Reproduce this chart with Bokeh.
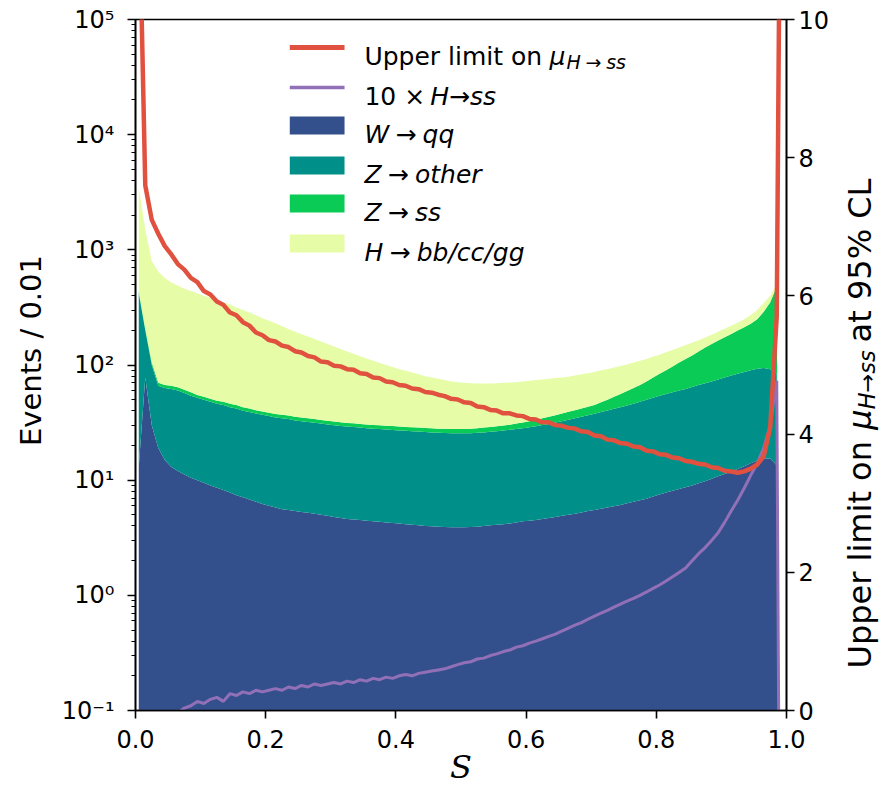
import numpy as np
from bokeh.plotting import figure
from bokeh.layouts import row
from bokeh.models import (Range1d, LinearAxis, LinearScale, FixedTicker, CustomJSTickFormatter,
                          Label, BoxAnnotation)
from bokeh.embed import file_html
from bokeh.resources import INLINE
from math import pi

# ---------------- data ----------------
# bin centres of the 0.01-wide histogram bins, plus the upper edge of the filled range
s_centres = np.round(np.arange(0.005, 0.99, 0.01), 3)
s_edge = [0.99]
s = list(s_centres) + s_edge

W_qq = [13, 78, 30, 19, 15, 13, 12, 11.2, 10.5, 10,
        9.5, 9.0, 8.6, 8.2, 7.8, 7.4, 7.1, 6.8, 6.5, 6.2,
        6.0, 5.8, 5.6, 5.5, 5.4, 5.3, 5.2, 5.1, 5.0, 4.9,
        4.8, 4.7, 4.6, 4.55, 4.5, 4.45, 4.4, 4.35, 4.3, 4.25,
        4.2, 4.15, 4.1, 4.05, 4.0, 3.98, 3.95, 3.93, 3.9, 3.9,
        3.9, 3.92, 3.95, 4.0, 4.05, 4.1, 4.15, 4.2, 4.3, 4.4,
        4.45, 4.5, 4.6, 4.7, 4.8, 4.9, 5.0, 5.1, 5.25, 5.4,
        5.5, 5.65, 5.8, 5.95, 6.1, 6.3, 6.5, 6.7, 6.9, 7.2,
        7.5, 7.8, 8.1, 8.4, 8.7, 9.0, 9.4, 9.8, 10.3, 10.8,
        11.3, 11.9, 12.5, 13.2, 14.0, 14.8, 15.4, 15.4, 13.5, 0]

Z_other = [407, 122, 70, 47, 48, 49, 48, 45.8, 43.5, 42,
           40.5, 39, 37.4, 36.8, 35.2, 34.6, 32.9, 32.2, 31.5, 30.8,
           30, 29.2, 28.9, 28.5, 27.6, 27.2, 26.8, 26.4, 26, 25.6,
           25.2, 24.8, 24.6, 24.45, 24.1, 23.85, 23.6, 23.45, 23.2, 23.05,
           22.8, 22.65, 22.5, 22.35, 22.2, 22.02, 21.85, 21.77, 21.7, 21.6,
           21.6, 21.68, 21.85, 22, 22.25, 22.5, 22.85, 23.2, 23.5, 23.9,
           24.35, 24.9, 25.5, 26.1, 26.8, 27.6, 28.5, 29.4, 30.25, 31.3,
           32.3, 33.35, 34.5, 35.65, 36.9, 38.2, 39.5, 41.3, 43.1, 44.8,
           46.5, 48.2, 49.9, 51.6, 53.3, 55.5, 57.6, 59.7, 61.7, 64.2,
           66.7, 69.1, 71.5, 73.8, 76, 78.2, 78.6, 76.6, 70.5, 0]

Z_ss = [20, 8, 5, 4, 4, 4, 4, 4, 4, 3,
        3, 3, 3, 3, 3, 3, 3, 3, 2.5, 2.5,
        2.5, 2.5, 2.5, 2.5, 2.5, 2.5, 2.5, 2.5, 2.3, 2.3,
        2.3, 2.3, 2.2, 2.2, 2.2, 2.2, 2.2, 2.2, 2.2, 2.2,
        2.2, 2.2, 2.2, 2.2, 2.2, 2.2, 2.2, 2.2, 2.2, 2.3,
        2.3, 2.4, 2.5, 2.6, 2.7, 2.8, 2.8, 2.9, 3.2, 3.4,
        3.7, 4.0, 4.3, 4.7, 5.1, 5.5, 5.8, 6.0, 6.5, 6.8,
        7.2, 8.5, 9.7, 11.4, 13, 15, 17, 19, 22, 26,
        30, 34, 39, 45, 51, 56.5, 64, 72.5, 80, 88,
        96, 105, 115, 126, 138, 157, 196, 258, 396, 0]

H_bbccgg = [3060, 1292, 695, 580, 503, 454, 426, 399, 382, 365,
            347, 334, 316, 302, 289, 270, 257, 243, 229.5, 215.5,
            203.5, 192.5, 181, 168.5, 159.5, 150, 142.5, 134, 126.7, 119.2,
            112.7, 106.2, 99.6, 93.8, 88.2, 83.5, 78.8, 74, 70.3, 66.5,
            62.8, 60, 57.2, 54.4, 51.6, 49.8, 48, 46.1, 44.2, 43.2,
            42.2, 41.5, 40.7, 40.4, 40, 40.1, 40.2, 40.2, 40, 40.3,
            40.5, 40.6, 40.6, 40.5, 40.3, 40, 39.7, 40.5, 41, 41.5,
            42, 42.5, 42, 42, 42, 41.5, 42, 42, 41, 40,
            39, 39, 38, 37, 36, 35, 33, 31, 31, 31,
            32, 33, 34, 37, 44, 50, 55, 50, 30, 0]

upper_limit = [12, 7.6, 7.1, 6.9, 6.72, 6.6, 6.46, 6.38, 6.26, 6.2,
               6.07, 6.02, 5.92, 5.87, 5.76, 5.72, 5.62, 5.57, 5.47, 5.43,
               5.36, 5.34, 5.28, 5.26, 5.2, 5.18, 5.13, 5.11, 5.05, 5.04,
               4.99, 4.98, 4.94, 4.93, 4.88, 4.87, 4.82, 4.81, 4.76, 4.75,
               4.71, 4.7, 4.66, 4.65, 4.61, 4.6, 4.57, 4.55, 4.51, 4.5,
               4.46, 4.45, 4.4, 4.39, 4.35, 4.34, 4.3, 4.3, 4.27, 4.26,
               4.22, 4.21, 4.17, 4.17, 4.13, 4.12, 4.09, 4.08, 4.04, 4.03,
               3.98, 3.97, 3.92, 3.91, 3.87, 3.86, 3.82, 3.81, 3.76, 3.75,
               3.71, 3.7, 3.66, 3.65, 3.61, 3.6, 3.57, 3.56, 3.52, 3.51,
               3.47, 3.46, 3.44, 3.46, 3.5, 3.56, 3.68, 4.1, 5.7, 12]

H_ss_x10 = [0.03, 0.04, 0.05, 0.06, 0.07, 0.085, 0.095, 0.105, 0.11, 0.12,
            0.115, 0.125, 0.13, 0.12, 0.14, 0.135, 0.145, 0.14, 0.15, 0.145,
            0.15, 0.155, 0.15, 0.16, 0.155, 0.165, 0.16, 0.17, 0.165, 0.17,
            0.175, 0.17, 0.18, 0.175, 0.185, 0.18, 0.19, 0.185, 0.195, 0.19,
            0.2, 0.205, 0.2, 0.21, 0.215, 0.22, 0.225, 0.23, 0.24, 0.25,
            0.26, 0.265, 0.28, 0.285, 0.3, 0.31, 0.325, 0.335, 0.355, 0.365,
            0.385, 0.4, 0.42, 0.44, 0.46, 0.49, 0.52, 0.55, 0.58, 0.62,
            0.66, 0.7, 0.74, 0.79, 0.84, 0.89, 0.94, 1.0, 1.07, 1.15,
            1.23, 1.33, 1.45, 1.58, 1.73, 2.0, 2.3, 2.6, 3.0, 3.5,
            4.3, 5.4, 6.7, 8.5, 11, 14, 19, 30, 73, 0]

x_ticks = [0.0, 0.2, 0.4, 0.6, 0.8, 1.0]
y_ticks = [1e-1, 1e0, 1e1, 1e2, 1e3, 1e4, 1e5]
ul_ticks = [0, 2, 4, 6, 8, 10]

n = len(s)
for arr in (W_qq, Z_other, Z_ss, H_bbccgg, upper_limit, H_ss_x10):
    assert len(arr) == n, len(arr)

# ---------------- styling ----------------
C_W = "#34508C"
C_ZO = "#009089"
C_ZSS = "#0ACB55"
C_H = "#E6FCA6"
C_RED = "#E1513F"
C_PUR = "#9170B8"
FLOOR = 1e-3
FONT = "DejaVu Sans"
SP = "\u2005"  # spacing around the arrow, as in math text

c1 = np.array(W_qq, float)
c2 = c1 + np.array(Z_other, float)
c3 = c2 + np.array(Z_ss, float)
c4 = c3 + np.array(H_bbccgg, float)
cl = lambda a: np.maximum(a, FLOOR)

FIG_H = 790
B_TOP, B_BOT = 19, 80
FW, FH = 654, FIG_H - B_TOP - B_BOT      # frame size in px
W_LEFT, W_RIGHT = 50, 48                 # side strips holding the axis titles

def strip(width):
    f = figure(width=width, height=FIG_H, x_range=Range1d(0, width), y_range=Range1d(0, FH),
               output_backend="svg", toolbar_location=None,
               min_border_left=0, min_border_right=0, min_border_top=B_TOP, min_border_bottom=B_BOT,
               x_axis_location=None, y_axis_location=None)
    f.outline_line_color = None
    f.xgrid.visible = False
    f.ygrid.visible = False
    f.background_fill_color = "white"
    f.border_fill_color = "white"
    return f

p = figure(width=135 - W_LEFT + FW + 43, height=FIG_H, x_range=Range1d(0, 1), y_range=Range1d(0.1, 1e5),
           y_axis_type="log", output_backend="svg", toolbar_location=None,
           min_border_left=135 - W_LEFT, min_border_right=43, min_border_top=B_TOP, min_border_bottom=B_BOT)
p.extra_y_ranges = {"ul": Range1d(0, 10)}
p.extra_y_scales = {"ul": LinearScale()}
p.xgrid.visible = False
p.ygrid.visible = False
p.outline_line_color = "black"
p.outline_line_width = 1.6
p.background_fill_color = "white"
p.border_fill_color = "white"

p.varea(x=s, y1=FLOOR, y2=cl(c1), fill_color=C_W)
p.varea(x=s, y1=cl(c1), y2=cl(c2), fill_color=C_ZO)
p.varea(x=s, y1=cl(c2), y2=cl(c3), fill_color=C_ZSS)
p.varea(x=s, y1=cl(c3), y2=cl(c4), fill_color=C_H)
p.line(x=s, y=cl(np.array(H_ss_x10, float)), line_color=C_PUR, line_width=3)
p.line(x=s, y=upper_limit, y_range_name="ul", line_color=C_RED, line_width=4.5)

def style_axis(ax, standoff):
    ax.axis_line_width = 1.6
    ax.axis_line_color = "black"
    ax.major_tick_line_width = 1.6
    ax.minor_tick_line_width = 1.2
    ax.major_tick_in = 0
    ax.major_tick_out = 8
    ax.minor_tick_in = 0
    ax.minor_tick_out = 4
    ax.major_label_text_font = FONT
    ax.major_label_text_font_size = "24px"
    ax.major_label_text_color = "black"
    ax.major_label_standoff = standoff
    ax.axis_label_text_font_style = "normal"
    ax.axis_label_text_color = "black"

xa = p.xaxis[0]
style_axis(xa, 11)
xa.ticker = FixedTicker(ticks=x_ticks)
xa.formatter = CustomJSTickFormatter(code="return tick.toFixed(1);")
xa.axis_label = "S"
xa.axis_label_text_font = "DejaVu Serif"
xa.axis_label_text_font_style = "italic"
xa.axis_label_text_font_size = "32px"
xa.axis_label_standoff = -3

ya = p.yaxis[0]
style_axis(ya, 13)
minor = [m * 10.0 ** e for e in range(-1, 5) for m in range(2, 10)]
ya.ticker = FixedTicker(ticks=y_ticks, minor_ticks=minor)
ya.formatter = CustomJSTickFormatter(code="""
const sup = {'-':'\u207b','0':'\u2070','1':'\u00b9','2':'\u00b2','3':'\u00b3','4':'\u2074',
             '5':'\u2075','6':'\u2076','7':'\u2077','8':'\u2078','9':'\u2079'};
const e = Math.round(Math.log10(tick));
return '10' + String(e).split('').map(c => sup[c]).join('');
""")

ra = LinearAxis(y_range_name="ul", ticker=FixedTicker(ticks=ul_ticks),
                formatter=CustomJSTickFormatter(code="return tick.toFixed(0);"))
style_axis(ra, 4)
p.add_layout(ra, "right")

# frame-pixel -> data helpers for placing the legend (px measured from frame left / top)
def fx(px):
    return px / FW
def fy(py):
    return 10 ** (5 - 6 * py / FH)

def lab(fig, text, x, y, size, style="normal", angle=0.0, align="left", baseline="alphabetic"):
    fig.add_layout(Label(x=x, y=y, text=text,
                         text_font=FONT, text_font_size=f"{size}px", text_font_style=style,
                         angle=angle, text_align=align, text_baseline=baseline,
                         text_color="black"))

# ---------------- legend (inside the frame) ----------------
rows_py = [28, 68, 106, 146, 184, 224]       # row centres, px below frame top
sw_l, sw_r = 155, 210
def swatch(pyc, half, col):
    p.add_layout(BoxAnnotation(left=fx(sw_l), right=fx(sw_r), bottom=fy(pyc + half), top=fy(pyc - half),
                               fill_color=col, fill_alpha=1, line_color=None))
swatch(rows_py[0], 2.5, C_RED)
swatch(rows_py[1], 1.8, C_PUR)
for pyc, col in zip(rows_py[2:], (C_W, C_ZO, C_ZSS, C_H)):
    swatch(pyc, 9, col)

tx = 230
LS = 25
bl = [y + 9 for y in rows_py]          # text baselines (px below frame top)
lab(p, "Upper limit on ", fx(tx), fy(bl[0]), LS)
lab(p, "\u03bc", fx(tx + 186), fy(bl[0]), LS, "italic")
lab(p, "H" + SP + "\u2192" + SP + "ss", fx(tx + 203), fy(bl[0] + 5), 19, "italic")
lab(p, "10 \u00d7 ", fx(tx), fy(bl[1]), LS)
lab(p, "H\u2192ss", fx(tx + 66), fy(bl[1]), LS, "italic")
lab(p, "W" + SP + "\u2192" + SP + "qq", fx(tx), fy(bl[2]), LS, "italic")
lab(p, "Z" + SP + "\u2192" + SP + "other", fx(tx), fy(bl[3]), LS, "italic")
lab(p, "Z" + SP + "\u2192" + SP + "ss", fx(tx), fy(bl[4]), LS, "italic")
lab(p, "H" + SP + "\u2192" + SP + "bb/cc/gg", fx(tx), fy(bl[5]), LS, "italic")

# ---------------- left axis title (strip) ----------------
p0 = strip(W_LEFT)
lab(p0, "Events / 0.01", 30, FH - 331, 29, angle=pi / 2, align="center", baseline="middle")

# ---------------- right-hand axis title (strip) ----------------
p2 = strip(W_RIGHT)
RS = 32
base_x = 27
y0 = 42                                  # px above frame bottom where the title starts
y_mu = y0 + 7.462 * RS
y_sub = y_mu + 0.636 * RS
y_rest = y_sub + 2.632 * 0.7 * RS + 8
lab(p2, "Upper limit on ", base_x, y0, RS, angle=pi / 2)
lab(p2, "\u03bc", base_x, y_mu, RS, "italic", angle=pi / 2)
lab(p2, "H\u2192ss", base_x + 7, y_sub, RS * 0.7, "italic", angle=pi / 2)
lab(p2, " at 95% CL", base_x, y_rest, RS, angle=pi / 2)

layout = row(p0, p, p2, spacing=0)
open("out.html", "w").write(file_html(layout, INLINE))
